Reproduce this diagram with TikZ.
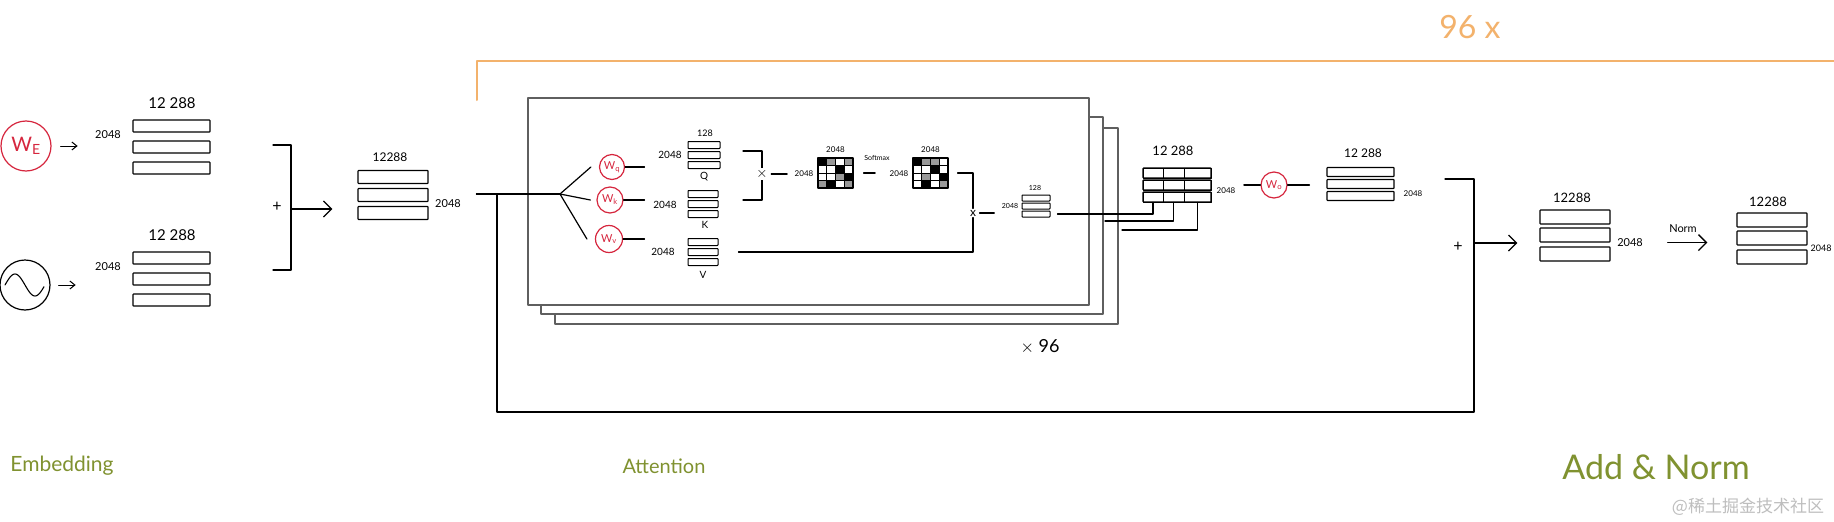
\documentclass[tikz,border=0pt]{standalone}
\usepackage{fontspec}
\newfontfamily\hand{Lato}
\newfontfamily\cjk{Noto Sans CJK SC}
\usepackage{tikz}
\usetikzlibrary{calc, positioning, arrows.meta}

\definecolor{wred}{RGB}{214,38,62}
\definecolor{hgreen}{RGB}{128,146,48}
\definecolor{horange}{RGB}{243,178,108}
\definecolor{boxgray}{RGB}{95,95,95}
\definecolor{wmgray}{RGB}{190,190,190}

\newcommand{\fsz}[1]{\fontsize{#1}{#1}\selectfont}

\begin{document}
\begin{tikzpicture}[x=1pt, y=-1pt, line width=1.2pt, line cap=round, line join=round,
  bar/.style={draw, line width=1.2pt, inner sep=0pt, rounded corners=0.6pt},
  wcirc/.style={draw=wred, text=wred, circle, line width=1.2pt, inner sep=0pt, font=\hand\fsz{11}},
  num/.style={inner sep=0pt, font=\hand\fsz{#1}},
  num/.default=11,
  abox/.style={draw=boxgray, fill=white, line width=1.6pt, anchor=north west, inner sep=0pt},
  title/.style={inner sep=0pt, text=hgreen, font=\hand\fsz{#1}},
  sarr/.style={-{Straight Barb[length=5pt,width=8pt]}, line width=1pt},
  barr/.style={-{Straight Barb[length=8pt,width=16pt]}, line width=1.3pt},
  grid/.style={line width=0.7pt}]

\useasboundingbox (0,0) rectangle (1834,522);
\clip (0,0) rectangle (1834,522);
\fill[white] (0,0) rectangle (1834,522);

%//embedding
\node[wcirc, minimum size=50, font=\hand\fsz{20}] (we) at (26,146) {W\textsubscript{E}};
\node[circle, draw, minimum size=50, inner sep=0pt] (pe) at (25,285) {};
\draw[line width=1.1pt, domain=-20:19, samples=40, smooth] plot ({25+\x}, {285+11*sin(9*\x)});

\foreach \i/\yy in {1/126,2/147,3/168}
\node[bar, minimum width=77, minimum height=12] (e\i) at (171.5,\yy) {};
\foreach \i/\yy in {1/258,2/279,3/300}
\node[bar, minimum width=77, minimum height=12] (p\i) at (171.5,\yy) {};

\node[num=15] (et) at (172,103) {12 288};
\node[num=11] (el) at (108,135) {2048};
\node[num=15] (pt) at (172,235) {12 288};
\node[num=11] (pl) at (108,267) {2048};

\draw[sarr, shorten <=9pt, shorten >=17pt] (we.east) -- (we.east -| el.west);
\draw[sarr, shorten <=8pt, shorten >=19pt] (pe.east) -- (pe.east -| pl.west);

%//sum
\coordinate (bt) at (291,145);
\coordinate (bb) at (291,270);
\coordinate (bm) at (291,209);
\draw ([xshift=-18pt]bt) -- (bt) -- (bb) -- ([xshift=-18pt]bb);
\node[num=16] (plus1) at (277,207) {+};

\foreach \i/\yy in {1/177,2/195,3/213}
\node[bar, minimum width=70, minimum height=13] (s\i) at (393,\yy) {};
\node[num=12] (st) at (390,157) {12288};
\node[num=11] (sl) at (448,204) {2048};
\draw[barr, shorten >=25pt] (bm) -- (bm -| s1.west);

%//repeat bracket
\draw[horange, line width=2pt] (477,100) -- (477,61) -- (1840,61);
\node[num=32, text=horange] (rep) at (1470,27) {96 x};

%//attention heads
\node[abox, minimum width=563, minimum height=196] (att3) at (554,127) {};
\node[abox, minimum width=562, minimum height=197] (att2) at (540,116) {};
\node[abox, minimum width=561, minimum height=207] (att1) at (527,97) {};
\node[num=18] (heads) at (1040,347) {$\times$ 96};

%//residual
\coordinate (br) at (560,194);
\coordinate (rs) at (497,194);
\coordinate (loop) at (497,412);
\coordinate (addtop) at (1474,179);
\coordinate (am) at (1474,243);
\draw[shorten <=15pt] (sl.east |- br) -- (br);
\draw (rs) -- (loop) -| (addtop) -- ([xshift=-29pt]addtop);

%//q k v
\node[wcirc, minimum size=25] (wq) at (612,167) {W\textsubscript{q}};
\node[wcirc, minimum size=26] (wk) at (610,200) {W\textsubscript{k}};
\node[wcirc, minimum size=27] (wv) at (609,239) {W\textsubscript{v}};
\draw (br) -- ([xshift=-8pt]wq.west);
\draw (br) -- ([xshift=-6pt]wk.west);
\draw (br) -- ([xshift=-8pt]wv.west);

\foreach \i/\yy in {1/145,2/155,3/165}
\node[bar, minimum width=32, minimum height=7, line width=1pt] (q\i) at (704,\yy) {};
\foreach \i/\yy in {1/194,2/204,3/214}
\node[bar, minimum width=30, minimum height=7, line width=1pt] (k\i) at (703,\yy) {};
\foreach \i/\yy in {1/242,2/252,3/262}
\node[bar, minimum width=30, minimum height=7, line width=1pt] (v\i) at (703,\yy) {};

\node[num=9] (q128) at (705,133) {128};
\node[num=10] (ql) at (670,155) {2048};
\node[num=10] (qn) at (704,177) {Q};
\node[num=10] (kl) at (665,205) {2048};
\node[num=10] (kn) at (705,225) {K};
\node[num=10] (vl) at (663,252) {2048};
\node[num=10] (vn) at (703,275) {V};

\draw[shorten >=43pt] (wq.east) -- (wq.east -| q1.west);
\draw[shorten >=43pt] (wk.east) -- (wk.east -| k1.west);
\draw[shorten >=43pt] (wv.east) -- (wv.east -| v1.west);

%//q times k
\coordinate (qkt) at (762,151);
\coordinate (qkb) at (762,200);
\draw ([xshift=-19pt]qkt) -- (qkt) -- (qkb) -- ([xshift=-19pt]qkb);
\node[num=15, fill=white, inner sep=1pt] (x1) at (762,174) {$\times$};
\node[num=8] (g1l) at (804,174) {2048};
\draw[shorten <=2pt, shorten >=7pt] (x1.east) -- (x1.east -| g1l.west);

%//scores
\def\gx{818}
\def\gy{158}
\foreach \row/\col in {1/1,2/3,3/4,4/2}
\fill ({\gx+(\col-1)*8.75},{\gy+(\row-1)*7.5}) rectangle +(8.75,7.5);
\foreach \row/\col in {1/2,1/4,3/3,4/1,4/4}
\fill[black!40] ({\gx+(\col-1)*8.75},{\gy+(\row-1)*7.5}) rectangle +(8.75,7.5);
\foreach \k in {1,2,3} {
\draw[grid] ({\gx+\k*8.75},\gy) -- +(0,30);
\draw[grid] (\gx,{\gy+\k*7.5}) -- +(35,0);
}
\node[draw, line width=1.2pt, minimum width=35, minimum height=30, inner sep=0pt] (g1) at ({\gx+17.5},{\gy+15}) {};
\node[num=8, above=4pt of g1] (g1t) {2048};

\node[num=7] (smx) at (877,158) {Softmax};
\node[num=8] (g2l) at (899,174) {2048};
\draw[shorten <=10pt, shorten >=14pt] (g1.east) -- (g1.east -| g2l.west);

\def\gx{913}
\def\gy{158}
\foreach \row/\col in {1/1,2/3,3/4,4/2}
\fill ({\gx+(\col-1)*8.75},{\gy+(\row-1)*7.5}) rectangle +(8.75,7.5);
\foreach \row/\col in {1/2,1/3,3/2,4/4}
\fill[black!40] ({\gx+(\col-1)*8.75},{\gy+(\row-1)*7.5}) rectangle +(8.75,7.5);
\foreach \k in {1,2,3} {
\draw[grid] ({\gx+\k*8.75},\gy) -- +(0,30);
\draw[grid] (\gx,{\gy+\k*7.5}) -- +(35,0);
}
\node[draw, line width=1.2pt, minimum width=35, minimum height=30, inner sep=0pt] (g2) at ({\gx+17.5},{\gy+15}) {};
\node[num=8, above=4pt of g2] (g2t) {2048};

%//times v
\node[num=12, fill=white, inner sep=1pt] (x2) at (973,213) {x};
\draw[shorten <=9pt] (g2.east) -| (x2.north);
\draw[shorten >=20pt] (x2.south) |- (v2.east);

\node[num=7] (o2l) at (1010,206) {2048};
\node[num=7] (head128) at (1035,188) {128};
\foreach \i/\yy in {1/198,2/206,3/214}
\node[bar, minimum width=28, minimum height=6, line width=1pt] (head\i) at (1036,\yy) {};
\draw[shorten <=2pt, shorten >=7pt] (x2.east) -- (x2.east -| o2l.west);

%//concat
\foreach \r/\yy in {1/173,2/185,3/197}
\foreach \k/\xx/\ww in {1/1153/20, 2/1173.5/21, 3/1197.5/27}
\node[draw, grid, inner sep=0pt, minimum width=\ww, minimum height=10] (c\r\k) at (\xx,\yy) {};
\foreach \r/\yy in {1/173,2/185,3/197}
\node[bar, minimum width=68, minimum height=10] (cr\r) at (1177,\yy) {};
\node[num=13] (ct) at (1173,151) {12 288};
\node[num=8] (cl) at (1226,191) {2048};

\coordinate (tail2) at (1105,221);
\coordinate (tail3) at (1122,230);
\draw[shorten <=7pt] (head3.east) -| (c31.south);
\draw (tail2) -| (c32.south);
\draw (tail3) -| (c33.south);

%//output projection
\node[wcirc, minimum size=26] (wo) at (1274,185) {W\textsubscript{o}};
\foreach \i/\yy in {1/172,2/184,3/196}
\node[bar, minimum width=67, minimum height=9] (out\i) at (1360.5,\yy) {};
\node[num=12] (outt) at (1363,153) {12 288};
\node[num=8] (outl) at (1413,194) {2048};
\draw[shorten <=8pt] (wo.west -| cl.east) -- (wo.west);
\draw[shorten >=17pt] (wo.east) -- (wo.east -| out1.west);

%//add and norm
\node[num=16] (plus2) at (1458,247) {+};
\foreach \i/\yy in {1/217,2/235,3/254}
\node[bar, minimum width=70, minimum height=14] (a\i) at (1575,\yy) {};
\node[num=13] (at) at (1572,198) {12288};
\node[num=11] (al) at (1630,243) {2048};
\draw[barr, shorten >=22pt] (am) -- (am -| a1.west);

\node[num=11] (nrm) at (1683,229) {Norm};
\draw[barr] ([xshift=-1pt,yshift=-9pt]nrm.south west) -- ([xshift=10pt,yshift=-9pt]nrm.south east);

\foreach \i/\yy in {1/220,2/238,3/257}
\node[bar, minimum width=70, minimum height=14] (n\i) at (1772,\yy) {};
\node[num=13] (nt) at (1768,202) {12288};
\node[num=9, anchor=west] (nl) at (1810,248) {2048};

%//titles
\node[title=21] (lemb) at (62,466) {Embedding};
\node[title=20] (latt) at (664,466) {Attention};
\node[title=34] (ladd) at (1656,467) {Add \& Norm};
\node[inner sep=0pt, text=wmgray, font=\cjk\fsz{17}] (wm) at (1748,507) {@稀土掘金技术社区};
\end{tikzpicture}
\end{document}
